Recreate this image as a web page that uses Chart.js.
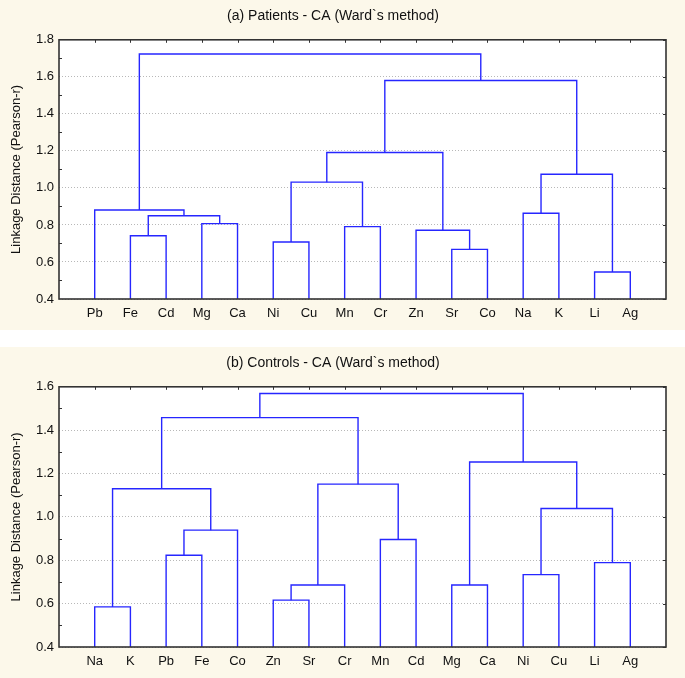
<!DOCTYPE html>
<html>
<head>
<meta charset="utf-8">
<script src="https://cdn.jsdelivr.net/npm/chart.js@4.4.1/dist/chart.umd.min.js"></script>
<style>
    html, body { margin: 0; padding: 0; background: #ffffff; }
    .panel { position: absolute; left: 0; width: 685px; background: #fcf8ea; }
    #panelA { top: 0; height: 330px; }
    #panelB { top: 347px; height: 331px; }
</style>
</head>
<body>
<div class="panel" id="panelA"><canvas id="chartA" width="685" height="330"></canvas></div>
<div class="panel" id="panelB"><canvas id="chartB" width="685" height="331"></canvas></div>
<script>
// (a) Patients: leaf order, merges [left, right] (indices >= 16 are earlier clusters), heights
const patientLeaves = ["Pb", "Fe", "Cd", "Mg", "Ca", "Ni", "Cu", "Mn", "Cr", "Zn", "Sr", "Co", "Na", "K", "Li", "Ag"];
const patientMerges = [[14, 15], [10, 11], [5, 6], [1, 2], [9, 17], [7, 8], [3, 4], [19, 22],
    [12, 13], [0, 23], [18, 21], [24, 16], [26, 20], [28, 27], [25, 29]];
const patientHeights = [0.546, 0.668, 0.708, 0.742, 0.771, 0.791, 0.807, 0.850,
    0.863, 0.881, 1.031, 1.074, 1.191, 1.580, 1.723];

// (b) Controls
const controlLeaves = ["Na", "K", "Pb", "Fe", "Co", "Zn", "Sr", "Cr", "Mn", "Cd", "Mg", "Ca", "Ni", "Cu", "Li", "Ag"];
const controlMerges = [[0, 1], [5, 6], [17, 7], [10, 11], [12, 13], [14, 15], [2, 3], [8, 9],
    [22, 4], [20, 21], [16, 24], [18, 23], [19, 25], [26, 27], [29, 28]];
const controlHeights = [0.585, 0.616, 0.686, 0.686, 0.734, 0.789, 0.823, 0.896,
    0.939, 1.039, 1.130, 1.151, 1.253, 1.458, 1.569];

const patientAxis = [0.4, 1.8];
const controlAxis = [0.4, 1.6];

const lineColor = "#2626ff";
const fontFamily = "'Liberation Sans', Arial, sans-serif";

function buildLinks(leaves, merges, heights, base) {
    const n = leaves.length;
    const xs = leaves.map((_, i) => i);
    const hs = leaves.map(() => base);
    const sets = [];
    merges.forEach((m, k) => {
        const a = m[0], b = m[1], h = heights[k];
        sets.push({
            data: [{x: xs[a], y: hs[a]}, {x: xs[a], y: h}, {x: xs[b], y: h}, {x: xs[b], y: hs[b]}],
            borderColor: lineColor,
            borderWidth: 1.4,
            pointRadius: 0,
            tension: 0,
            fill: false
        });
        xs[n + k] = (xs[a] + xs[b]) / 2;
        hs[n + k] = h;
    });
    return sets;
}

const framePlugin = {
    id: "frame",
    beforeDraw(chart) {
        const {ctx, chartArea: a} = chart;
        ctx.save();
        ctx.fillStyle = "#ffffff";
        ctx.fillRect(a.left, a.top, a.right - a.left, a.bottom - a.top);
        ctx.restore();
    },
    afterDraw(chart) {
        const {ctx, chartArea: a, scales} = chart;
        const yS = scales.y, xS = scales.x;
        ctx.save();
        ctx.strokeStyle = "#333333";
        ctx.lineWidth = 1;
        ctx.beginPath();
        // top ticks at leaf positions
        for (let i = 0; i <= 15; i++) {
            const px = Math.round(xS.getPixelForValue(i)) + 0.5;
            ctx.moveTo(px, a.top);
            ctx.lineTo(px, a.top + 3);
        }
        // right major ticks and left minor ticks
        const min = yS.min, max = yS.max;
        for (let v = min; v <= max + 1e-9; v += 0.1) {
            const py = Math.round(yS.getPixelForValue(v)) + 0.5;
            const major = Math.round(v * 10) % 2 === 0;
            if (major) {
                ctx.moveTo(a.right, py);
                ctx.lineTo(a.right - 3, py);
            } else {
                ctx.moveTo(a.left, py);
                ctx.lineTo(a.left + 3, py);
            }
        }
        ctx.stroke();
        ctx.lineWidth = 1.6;
        ctx.strokeRect(a.left, a.top, a.right - a.left, a.bottom - a.top);
        ctx.restore();
    }
};

function renderDendrogram(canvasId, title, leaves, merges, heights, range) {
    const ctx = document.getElementById(canvasId).getContext("2d");
    return new Chart(ctx, {
        type: "line",
        data: {datasets: buildLinks(leaves, merges, heights, range[0])},
        plugins: [framePlugin],
        options: {
            responsive: false,
            animation: false,
            layout: {padding: {left: 0, right: 19, top: 0, bottom: 0}},
            plugins: {
                legend: {display: false},
                tooltip: {enabled: false},
                title: {
                    display: true,
                    text: title,
                    color: "#111111",
                    font: {family: fontFamily, size: 14, weight: "normal"},
                    padding: {top: 8, bottom: 15}
                }
            },
            scales: {
                x: {
                    type: "linear",
                    min: -1,
                    max: 16,
                    grid: {display: false, drawTicks: false},
                    border: {display: false},
                    afterFit: s => { s.height = 31; },
                    afterBuildTicks: s => { s.ticks = leaves.map((_, i) => ({value: i})); },
                    ticks: {
                        autoSkip: false,
                        maxRotation: 0,
                        padding: 7,
                        color: "#111111",
                        font: {family: fontFamily, size: 13},
                        callback: v => leaves[v] || ""
                    }
                },
                y: {
                    min: range[0],
                    max: range[1],
                    grid: {color: "#b8b8b8", borderDash: [1, 2], drawTicks: false, lineWidth: 1},
                    border: {display: false, dash: [1, 2]},
                    afterFit: s => { s.width = 59; },
                    title: {
                        display: true,
                        text: "Linkage Distance (Pearson-r)",
                        color: "#111111",
                        font: {family: fontFamily, size: 13},
                        padding: {top: 9, bottom: 0}
                    },
                    ticks: {
                        stepSize: 0.2,
                        padding: 5,
                        color: "#111111",
                        font: {family: fontFamily, size: 13},
                        callback: v => Number(v).toFixed(1)
                    }
                }
            }
        }
    });
}

renderDendrogram("chartA", "(a) Patients - CA (Ward`s method)", patientLeaves, patientMerges, patientHeights, patientAxis);
renderDendrogram("chartB", "(b) Controls - CA (Ward`s method)", controlLeaves, controlMerges, controlHeights, controlAxis);
</script>
</body>
</html>
